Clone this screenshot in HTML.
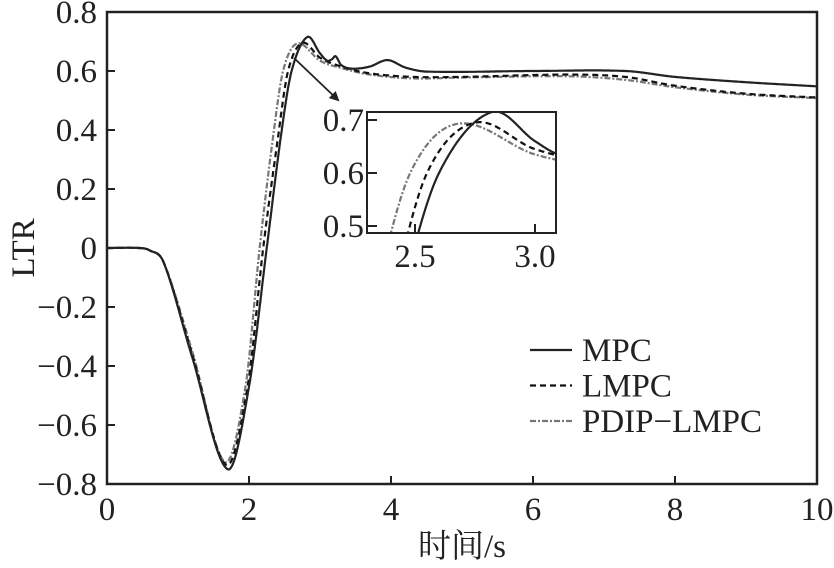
<!DOCTYPE html>
<html><head><meta charset="utf-8"><style>
html,body{margin:0;padding:0;background:#fff;}
svg text{font-family:"Liberation Serif","Noto Serif CJK SC",serif;fill:#222;}
</style></head><body>
<svg id="s" width="834" height="563" xmlns="http://www.w3.org/2000/svg">
<defs><clipPath id="main"><rect x="107" y="12" width="710" height="472"/></clipPath>
<clipPath id="ins"><rect x="367" y="112" width="189" height="121"/></clipPath>
<marker id="ar" markerWidth="10" markerHeight="10" refX="8" refY="5" orient="auto" markerUnits="userSpaceOnUse"><path d="M0,0 L10,5 L0,10 z" fill="#222"/></marker></defs>
<g id="g"></g>
</svg>
<script>
const NS="http://www.w3.org/2000/svg";
const g=document.getElementById('g');
function el(t,a,txt){const e=document.createElementNS(NS,t);for(const k in a)e.setAttribute(k,a[k]);if(txt!==undefined)e.textContent=txt;g.appendChild(e);return e;}
const MPC=[[0,0],[0.45,0],[0.6,-0.008],[0.8,-0.05],[1.2,-0.37],[1.7,-0.75],[2.0,-0.47],[2.25,0],[2.45,0.38],[2.6,0.6],[2.82,0.715],[3.0,0.66],[3.1,0.635],[3.17,0.64],[3.22,0.65],[3.3,0.62],[3.45,0.608],[3.7,0.615],[3.95,0.637],[4.2,0.612],[4.5,0.598],[6,0.6],[7.3,0.6],[8,0.58],[9,0.562],[10,0.548]];
const LMPC=[[0,0],[0.45,0],[0.6,-0.008],[0.8,-0.05],[1.2,-0.36],[1.68,-0.735],[1.98,-0.47],[2.2,0],[2.4,0.36],[2.55,0.6],[2.75,0.695],[3.0,0.645],[3.3,0.615],[3.7,0.592],[4.3,0.58],[5,0.58],[6.5,0.588],[7.3,0.58],[8,0.55],[9,0.523],[10,0.51]];
const PD=[[0,0],[0.45,0],[0.6,-0.008],[0.8,-0.05],[1.2,-0.35],[1.66,-0.725],[1.95,-0.47],[2.15,0],[2.33,0.36],[2.48,0.6],[2.68,0.693],[3.0,0.635],[3.3,0.61],[3.7,0.588],[4.3,0.575],[5,0.578],[6.5,0.582],[7.3,0.57],[8,0.545],[9,0.52],[10,0.508]];
function cr(P,t){let i=0;while(i<P.length-2&&P[i+1][0]<t)i++;const p1=P[i],p2=P[i+1],p0=P[Math.max(0,i-1)],p3=P[Math.min(P.length-1,i+2)];
const u=(t-p1[0])/(p2[0]-p1[0]);const m1=(p2[1]-p0[1])/(p2[0]-p0[0]||1)*(p2[0]-p1[0]);const m2=(p3[1]-p1[1])/(p3[0]-p1[0]||1)*(p2[0]-p1[0]);
const u2=u*u,u3=u2*u;return (2*u3-3*u2+1)*p1[1]+(u3-2*u2+u)*m1+(-2*u3+3*u2)*p2[1]+(u3-u2)*m2;}
function path(P,fx,fy,t0,t1){let d="";for(let t=t0;t<=t1+1e-9;t+=0.005){d+=(d?"L":"M")+fx(t).toFixed(1)+","+fy(cr(P,t)).toFixed(1);}return d;}
const X=t=>107+t*71,Y=v=>248-v*295;
const styles=[[PD,"#777","2.2","6,2,2,2"],[LMPC,"#111","2.2","6,4"],[MPC,"#222","2.2",""]];
for(const s of styles)el('path',{d:path(s[0],X,Y,0,10),fill:"none",stroke:s[1],"stroke-width":s[2],"stroke-dasharray":s[3],"clip-path":"url(#main)"});
el('rect',{x:107,y:12,width:710,height:472,fill:"none",stroke:"#222","stroke-width":2.5});
for(let i=0;i<=5;i++){const x=X(i*2);el('line',{x1:x,y1:484,x2:x,y2:476,stroke:"#222","stroke-width":2});el('text',{x:x,y:520,"font-size":33,"text-anchor":"middle"},String(i*2));}
for(let i=0;i<=8;i++){const v=0.8-i*0.2,y=Y(v);el('line',{x1:107,y1:y,x2:115,y2:y,stroke:"#222","stroke-width":2});
let s=Math.abs(v)<1e-9?"0":(v<0?"\u2212":"")+Math.abs(v).toFixed(1);el('text',{x:97,y:y+11,"font-size":33,"text-anchor":"end"},s);}
el('text',{x:462,y:557,"font-size":33,"text-anchor":"middle"},"时间/s");
el('text',{x:0,y:0,"font-size":33,"text-anchor":"middle",transform:"translate(34,248) rotate(-90)"},"LTR");
const L=[["MPC","#222",""],["LMPC","#111","6,4"],["PDIP\u2212LMPC","#777","6,2,2,2"]];
L.forEach((l,i)=>{const y=350+i*35.5;el('line',{x1:530,y1:y,x2:572,y2:y,stroke:l[1],"stroke-width":2.2,"stroke-dasharray":l[2]});el('text',{x:582,y:y+11,"font-size":33},l[0]);});
el('line',{x1:294,y1:58,x2:338,y2:100,stroke:"#222","stroke-width":1.8,"marker-end":"url(#ar)"});
el('rect',{x:367,y:112,width:189,height:121,fill:"#fff"});
const XI=t=>415+(t-2.5)*240,YI=v=>173-(v-0.6)*530;
for(const s of styles)el('path',{d:path(s[0],XI,YI,2.3,3.1),fill:"none",stroke:s[1],"stroke-width":s[2],"stroke-dasharray":s[3],"clip-path":"url(#ins)"});
el('rect',{x:367,y:112,width:189,height:121,fill:"none",stroke:"#222","stroke-width":2});
[[0.7,"0.7"],[0.6,"0.6"],[0.5,"0.5"]].forEach(a=>{const y=YI(a[0]);el('line',{x1:367,y1:y,x2:377,y2:y,stroke:"#222","stroke-width":2});el('text',{x:364,y:y+11,"font-size":33,"text-anchor":"end"},a[1]);});
[[2.5,"2.5"],[3.0,"3.0"]].forEach(a=>{const x=XI(a[0]);el('line',{x1:x,y1:233,x2:x,y2:224,stroke:"#222","stroke-width":2});el('text',{x:x,y:267,"font-size":33,"text-anchor":"middle"},a[1]);});
</script>
</body></html>
